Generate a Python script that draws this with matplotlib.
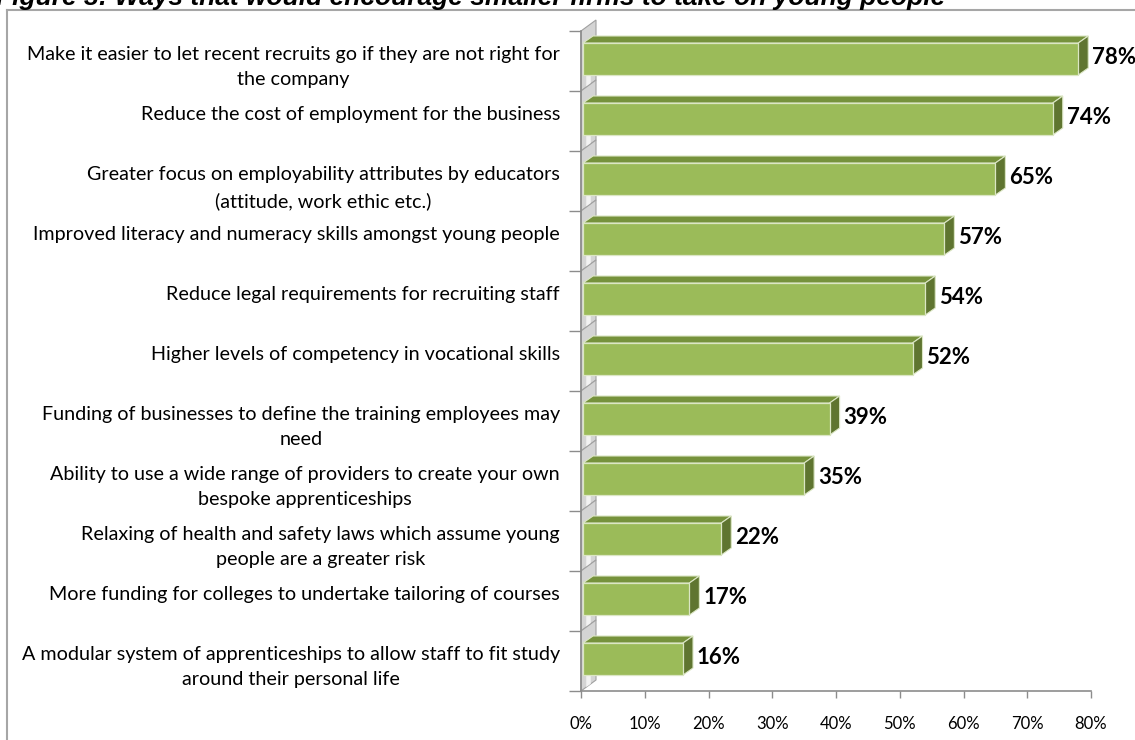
import numpy as np
import matplotlib.pyplot as plt
from matplotlib.patches import Polygon
from matplotlib.lines import Line2D

labels = [
    "Make it easier to let recent recruits go if they are not right for\nthe company",
    "Reduce the cost of employment for the business",
    "Greater focus on employability attributes by educators\n(attitude, work ethic etc.)",
    "Improved literacy and numeracy skills amongst young people",
    "Reduce legal requirements for recruiting staff",
    "Higher levels of competency in vocational skills",
    "Funding of businesses to define the training employees may\nneed",
    "Ability to use a wide range of providers to create your own\nbespoke apprenticeships",
    "Relaxing of health and safety laws which assume young\npeople are a greater risk",
    "More funding for colleges to undertake tailoring of courses",
    "A modular system of apprenticeships to allow staff to fit study\naround their personal life",
]
values = [78, 74, 65, 57, 54, 52, 39, 35, 22, 17, 16]
xticks = [0, 10, 20, 30, 40, 50, 60, 70, 80]
title = "Figure 3: Ways that would encourage smaller firms to take on young people"

W, H = 1135, 740
fig = plt.figure(figsize=(W / 100, H / 100), dpi=100)
# axes box in pixels: x 581..1091, y 31..691
ax = fig.add_axes([581 / W, 1 - 691 / H, 510 / W, 660 / H])
n = len(values)
ax.set_xlim(0, 80)
ax.set_ylim(n, 0)

px_x = 80 / 510.0   # data units per pixel, x
px_y = 1 / 60.0     # data units per pixel, y

front = '#9bbb59'
top = '#76923c'
side = '#5f7530'
edge = '#dbe6c4'

# back wall on the left
wdx, wdy = 15 * px_x, 11 * px_y
for k in range(n):
    poly = Polygon([(0, k + 1), (wdx, k + 1 - wdy), (wdx, k - wdy), (0, k)],
                   closed=True, facecolor='#d4d4d4', edgecolor='#a0a0a0',
                   lw=0.8, clip_on=False, zorder=1)
    ax.add_patch(poly)
    hl = Polygon([(wdx * 0.35, k + 1 - wdy * 0.35), (wdx * 0.65, k + 1 - wdy * 0.65),
                  (wdx * 0.65, k + 0.55 - wdy * 0.65), (wdx * 0.35, k + 0.55 - wdy * 0.35)],
                 closed=True, facecolor='#f2f2f2', edgecolor='none',
                 clip_on=False, zorder=1)
    ax.add_patch(hl)

# 3d bars
dx, dy = 10 * px_x, 7 * px_y
y_top_off = 12 * px_y
h = 32 * px_y
for k, v in enumerate(values):
    y0 = k + y_top_off
    y1 = y0 + h
    x0 = 2 * px_x
    ax.add_patch(Polygon([(x0, y0), (x0 + dx, y0 - dy), (v + dx, y0 - dy), (v, y0)],
                         closed=True, facecolor=top, edgecolor=edge, lw=0.8,
                         clip_on=False, zorder=3))
    ax.add_patch(Polygon([(v, y0), (v + dx, y0 - dy), (v + dx, y1 - dy), (v, y1)],
                         closed=True, facecolor=side, edgecolor=edge, lw=0.8,
                         clip_on=False, zorder=3))
    ax.add_patch(Polygon([(x0, y0), (v, y0), (v, y1), (x0, y1)],
                         closed=True, facecolor=front, edgecolor=edge, lw=0.9,
                         clip_on=False, zorder=4))
    ax.text(v + dx + 4 * px_x, (y0 + y1) / 2 - 1 * px_y, f"{v}%",
            ha='left', va='center', fontsize=16, fontweight='bold',
            family='Lato', color='black', zorder=5, clip_on=False)
    ax.text(-21 / 510.0, k + 0.5 - 0.25, labels[k],
            transform=ax.get_yaxis_transform(), ha='right', va='top',
            multialignment='center', fontsize=14.2, family='Lato',
            color='black', linespacing=1.6)

for s in ['top', 'right']:
    ax.spines[s].set_visible(False)
ax.spines['left'].set_color('#8c8c8c')
ax.spines['bottom'].set_color('#8c8c8c')
ax.spines['left'].set_linewidth(1.2)
ax.spines['bottom'].set_linewidth(1.2)
ax.set_yticks(range(n + 1))
ax.set_yticklabels([])
ax.tick_params(axis='y', length=9, color='#8c8c8c', width=1.0)
ax.set_xticks(xticks)
ax.set_xticklabels([f"{t}%" for t in xticks], family='Lato', fontsize=12)
ax.tick_params(axis='x', length=5, color='#8c8c8c', width=1.0, pad=13)
ax.patch.set_visible(False)

# outer frame
fig.add_artist(Line2D([7 / W, 7 / W], [0, 1 - 10 / H], color='#a6a6a6', lw=1.5))
fig.add_artist(Line2D([7 / W, 1], [1 - 10 / H, 1 - 10 / H], color='#a6a6a6', lw=1.5))

fig.text(-4 / W, 1 - 5 / H, title, ha='left', va='baseline', fontsize=19,
         fontweight='bold', fontstyle='italic', family='Liberation Sans')

plt.savefig('out.png', dpi=100)
